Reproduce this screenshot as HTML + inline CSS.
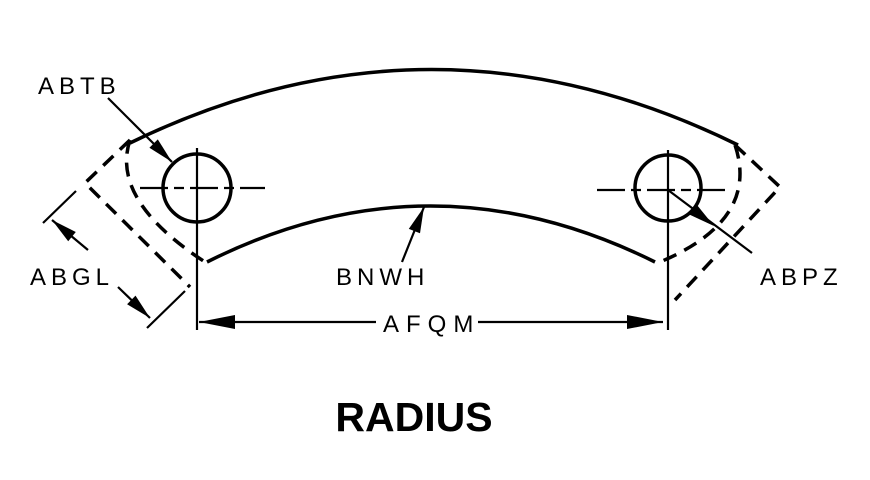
<!DOCTYPE html>
<html><head><style>body{margin:0;background:#fff}svg{display:block}</style></head><body>
<svg width="870" height="480" viewBox="0 0 870 480" xmlns="http://www.w3.org/2000/svg">
<g fill="none" stroke="#000" stroke-width="3.5">
<path d="M130,143 Q433,-5 738,145"/>
<path d="M207,262 Q430,150 655,262"/>
<circle cx="197" cy="188" r="34"/>
<circle cx="668" cy="188" r="33"/>
<path d="M130,140 L85,183 L190,287" stroke-dasharray="14,9"/>
<path d="M130,140 Q110,200 205,262" stroke-dasharray="14,9"/>
<path d="M735,145 L780,187 L675,300" stroke-dasharray="14,9"/>
<path d="M735,145 Q760,220 660,262" stroke-dasharray="14,9"/>
</g>
<g stroke="#000" stroke-width="2.2" fill="none">
<path d="M140,188H265M597,190H725" stroke-dasharray="28,6,10,6"/>
<path d="M197,148V330M668,150V330"/>
<path d="M43,223L76,191M147,328L185,291"/>
<line x1="199" y1="322" x2="376" y2="322"/>
<line x1="478" y1="322" x2="663" y2="322"/>
<path d="M88,250L52,220M118,287L150,318M108,98L172,162M668,190L752,253M402,262L424,207"/>
</g>
<g fill="#000">
<polygon points="199,322 235,315 235,329"/>
<polygon points="663,322 627,315 627,329"/>
<polygon points="172,162 149.4,147.8 157.8,139.4"/>
<polygon points="52,220 75.8,232 68.2,241.2"/>
<polygon points="150,318 127.1,304.2 135.5,295.6"/>
<polygon points="714,226 689.8,214.7 697.2,205.3"/>
<polygon points="424,207 420,233.3 408.8,228.9"/>
</g>
<g font-family="Liberation Sans, sans-serif" font-size="24" fill="#000" letter-spacing="5">
<text x="38" y="94">ABTB</text>
<text x="30" y="285">ABGL</text>
<text x="336" y="285">BNWH</text>
<text x="383" y="332" letter-spacing="7">AFQM</text>
<text x="760" y="285">ABPZ</text>
</g>
<text x="414" y="431" text-anchor="middle" font-family="Liberation Sans, sans-serif" font-weight="bold" font-size="41">RADIUS</text>
</svg>
</body></html>
